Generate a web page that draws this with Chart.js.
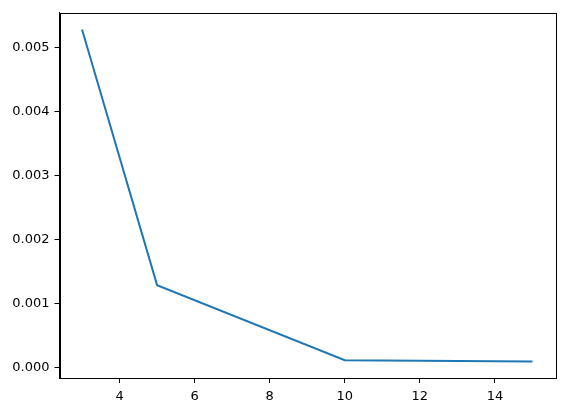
<!DOCTYPE html>
<html>
<head>
<meta charset="utf-8">
<script src="https://cdn.jsdelivr.net/npm/chart.js@4/dist/chart.umd.min.js"></script>
<style>
  html, body { margin: 0; padding: 0; background: #fff; }
  #wrap { width: 565px; height: 413px; }
</style>
</head>
<body>
<div id="wrap"><canvas id="chart"></canvas></div>
<script>
// data
const xValues = [3, 5, 10, 15];
const yValues = [0.00528, 0.001285, 0.000113, 0.000093];
const xTicks = [4, 6, 8, 10, 12, 14];
const yTicks = [0, 0.001, 0.002, 0.003, 0.004, 0.005];

// box around the plot area, like matplotlib's spines
const frame = {
  id: 'frame',
  afterDraw(chart) {
    const a = chart.chartArea, ctx = chart.ctx;
    ctx.save();
    ctx.strokeStyle = '#000';
    ctx.lineWidth = 1;
    ctx.strokeRect(Math.round(a.left) + 0.5, Math.round(a.top) + 0.5,
      Math.round(a.right - a.left), Math.round(a.bottom - a.top));
    ctx.restore();
  }
};

const ctx = document.getElementById('chart').getContext('2d');
new Chart(ctx, {
  type: 'line',
  data: {
    datasets: [{
      data: xValues.map((x, i) => ({ x: x, y: yValues[i] })),
      borderColor: '#1f77b4',
      borderWidth: 2,
      pointRadius: 0,
      tension: 0,
      fill: false
    }]
  },
  options: {
    responsive: true,
    maintainAspectRatio: false,
    animation: false,
    layout: { padding: { left: 0, right: 10, top: 10, bottom: 0 } },
    plugins: { legend: { display: false }, tooltip: { enabled: false } },
    scales: {
      x: {
        type: 'linear',
        min: 2.4,
        max: 15.6,
        afterBuildTicks: s => { s.ticks = xTicks.map(v => ({ value: v })); },
        afterFit: s => { s.height = 35; },
        grid: { drawOnChartArea: false, tickLength: 5, color: '#000' },
        border: { display: true, color: '#000' },
        ticks: {
          color: '#000',
          padding: 6,
          font: { family: 'DejaVu Sans', size: 13 },
          callback: v => String(v)
        }
      },
      y: {
        type: 'linear',
        min: -0.000166,
        max: 0.00554,
        afterBuildTicks: s => { s.ticks = yTicks.map(v => ({ value: v })); },
        afterFit: s => { s.width = 59.5; },
        grid: { drawOnChartArea: false, tickLength: 5, color: '#000' },
        border: { display: true, color: '#000' },
        ticks: {
          color: '#000',
          padding: 5,
          font: { family: 'DejaVu Sans', size: 13 },
          callback: v => v.toFixed(3)
        }
      }
    }
  },
  plugins: [frame]
});
</script>
</body>
</html>
